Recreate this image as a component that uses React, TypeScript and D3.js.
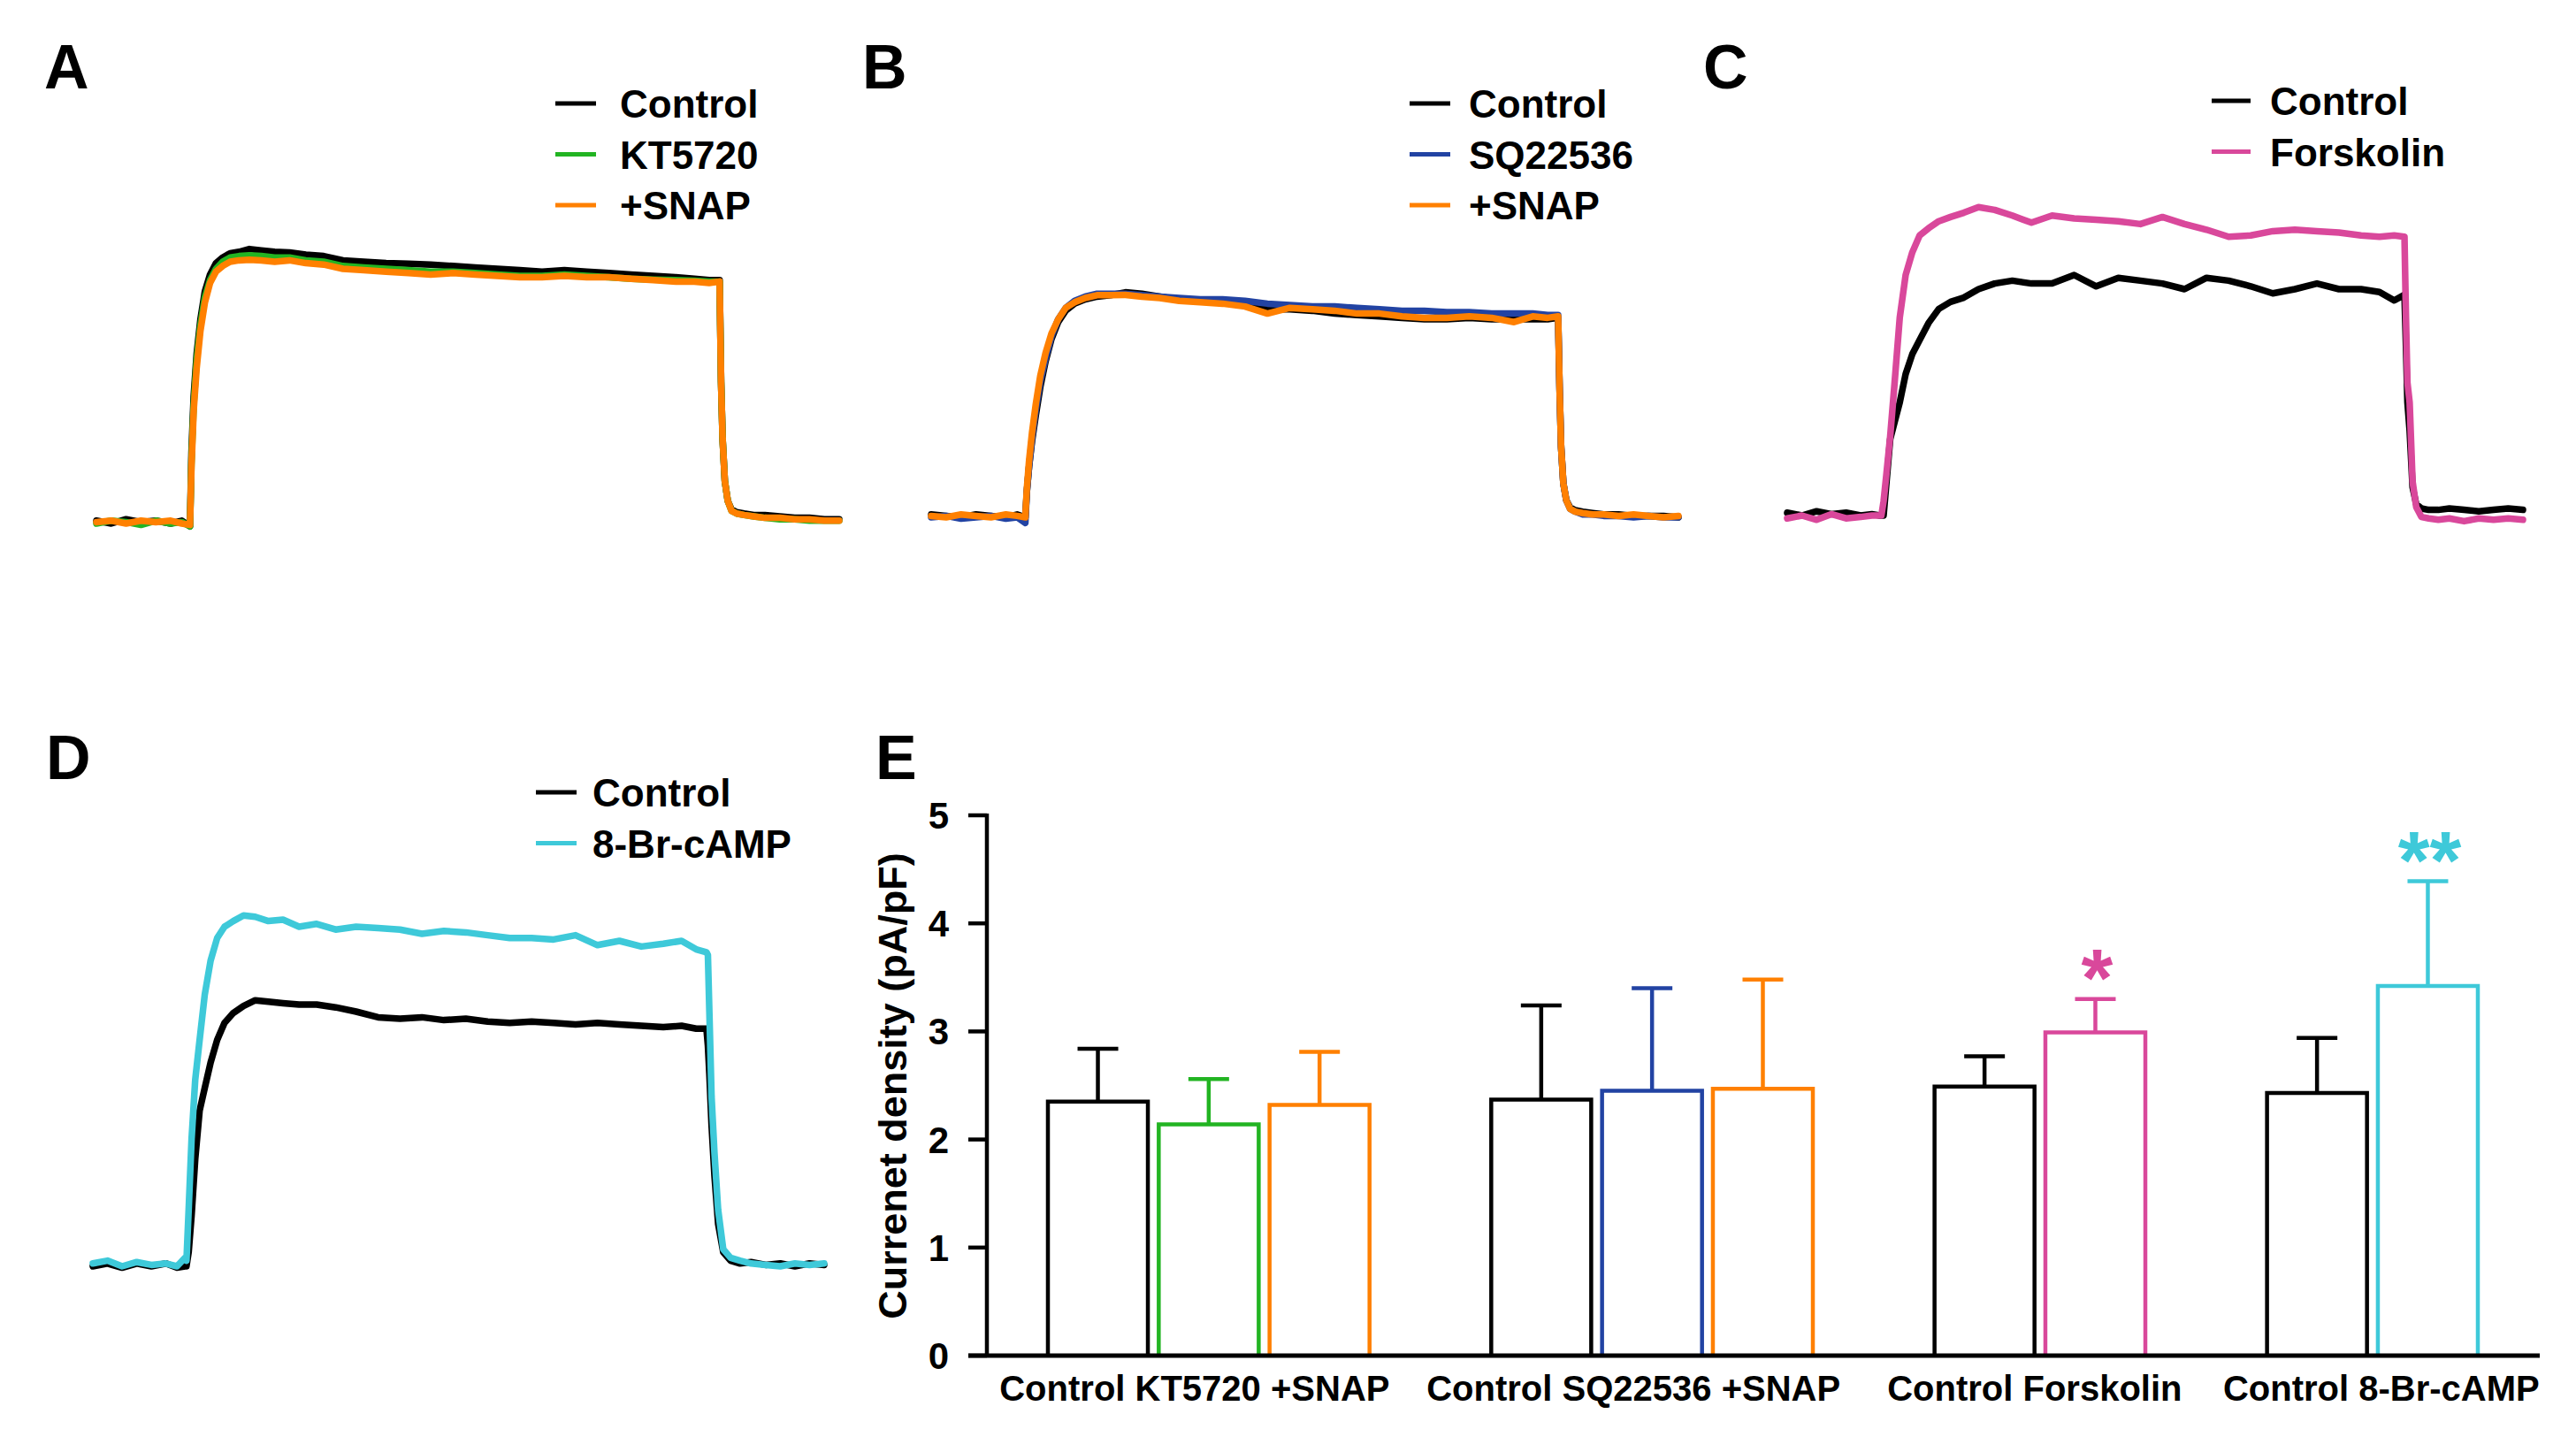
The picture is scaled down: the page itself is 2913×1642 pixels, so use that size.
import * as d3 from "d3";

// time base (ms) shared by all current traces
const traceTime = [
  0, 20, 40, 60, 80, 100, 115, 126,
  128, 131, 135, 140, 146, 153, 161, 170,
  180, 192, 206, 222, 240, 260, 282, 306,
  332, 360, 390, 420, 450, 480, 510, 540,
  570, 600, 630, 660, 690, 720, 750, 780,
  805, 825, 839, 841, 843, 846, 850, 855,
  862, 872, 885, 900, 920, 940, 960, 980,
  1000,
];

// panel A
const aControl = [
  0.01, 0.0, 0.015, 0.005, 0.01, 0.0, 0.01, -0.01,
  0.25, 0.45, 0.6, 0.72, 0.82, 0.88, 0.92, 0.94,
  0.955, 0.96, 0.97, 0.965, 0.96, 0.958, 0.95, 0.945,
  0.93, 0.925, 0.92, 0.918, 0.915, 0.91, 0.905, 0.9,
  0.895, 0.89, 0.895, 0.89, 0.885, 0.88, 0.875, 0.87,
  0.865, 0.86, 0.86, 0.5, 0.3, 0.15, 0.08, 0.05,
  0.04, 0.035, 0.03, 0.03, 0.025, 0.02, 0.02, 0.015,
  0.015,
];
const aKT5720 = [
  0.0, 0.01, 0.005, -0.005, 0.01, 0.0, 0.005, -0.01,
  0.22, 0.42, 0.58, 0.7, 0.8, 0.86, 0.9, 0.925,
  0.94, 0.945, 0.948, 0.945, 0.94, 0.94, 0.93, 0.925,
  0.91, 0.905, 0.9, 0.895, 0.89, 0.89, 0.885, 0.88,
  0.875, 0.875, 0.88, 0.875, 0.87, 0.865, 0.862, 0.86,
  0.858, 0.855, 0.855, 0.5, 0.3, 0.15, 0.08, 0.045,
  0.035, 0.03, 0.025, 0.02, 0.015, 0.015, 0.01, 0.01,
  0.01,
];
const aSnap = [
  0.005, 0.01, 0.0, 0.01, 0.005, 0.01, 0.0, -0.005,
  0.2, 0.4, 0.55, 0.68, 0.78, 0.85, 0.89, 0.91,
  0.925, 0.93, 0.932, 0.93, 0.925, 0.93, 0.92, 0.915,
  0.9, 0.895, 0.89, 0.885, 0.88, 0.885, 0.88, 0.875,
  0.87, 0.87, 0.875, 0.87, 0.87, 0.865, 0.86, 0.855,
  0.855, 0.85, 0.855, 0.5, 0.3, 0.15, 0.08, 0.045,
  0.035, 0.03, 0.025, 0.02, 0.02, 0.015, 0.015, 0.01,
  0.01,
];

// panel B
const bControl = [
  0.01, 0.005, 0.0, 0.01, 0.005, 0.0, 0.01, 0.0,
  0.09, 0.18, 0.27, 0.36, 0.46, 0.55, 0.63, 0.69,
  0.73, 0.755, 0.77, 0.78, 0.785, 0.795, 0.79, 0.78,
  0.77, 0.765, 0.76, 0.75, 0.735, 0.735, 0.73, 0.72,
  0.715, 0.71, 0.705, 0.7, 0.7, 0.705, 0.7, 0.7,
  0.7, 0.7, 0.705, 0.45, 0.25, 0.12, 0.06, 0.035,
  0.025, 0.02, 0.015, 0.01, 0.01, 0.005, 0.005, 0.005,
  0.0,
];
const bSQ22536 = [
  0.0, 0.005, -0.005, 0.0, 0.005, -0.005, 0.0, -0.02,
  0.09, 0.18, 0.28, 0.38, 0.48, 0.56, 0.64, 0.7,
  0.74, 0.765, 0.78, 0.79, 0.79, 0.79, 0.785, 0.78,
  0.775, 0.77, 0.77, 0.765, 0.755, 0.75, 0.745, 0.745,
  0.74, 0.735, 0.73, 0.73, 0.725, 0.725, 0.72, 0.72,
  0.72, 0.715, 0.715, 0.45, 0.25, 0.12, 0.06, 0.03,
  0.02, 0.01, 0.01, 0.005, 0.005, 0.0, 0.005, 0.0,
  0.0,
];
const bSnap = [
  0.005, 0.0, 0.01, 0.005, 0.0, 0.01, 0.005, 0.0,
  0.1, 0.2, 0.3, 0.4, 0.5, 0.58, 0.65, 0.7,
  0.74, 0.76, 0.775, 0.785, 0.785, 0.786, 0.78, 0.775,
  0.765, 0.76, 0.755, 0.745, 0.72, 0.74, 0.735, 0.73,
  0.72, 0.72, 0.71, 0.705, 0.705, 0.71, 0.705, 0.69,
  0.71, 0.705, 0.71, 0.45, 0.25, 0.12, 0.06, 0.03,
  0.02, 0.015, 0.01, 0.01, 0.005, 0.01, 0.005, 0.0,
  0.005,
];

// panel C
const cControl = [
  0.01, 0.0, 0.015, 0.005, 0.01, 0.0, 0.005, 0.0,
  0.0, 0.0, 0.12, 0.27, 0.33, 0.4, 0.5, 0.57,
  0.62, 0.68, 0.73, 0.755, 0.77, 0.8, 0.82, 0.83,
  0.82, 0.82, 0.85, 0.81, 0.84, 0.83, 0.82, 0.8,
  0.84, 0.83, 0.81, 0.785, 0.8, 0.82, 0.8, 0.8,
  0.79, 0.76, 0.78, 0.6, 0.4, 0.3, 0.1, 0.04,
  0.025, 0.02, 0.02, 0.025, 0.02, 0.015, 0.02, 0.025,
  0.02,
];
const cForskolin = [
  -0.01, 0.0, -0.015, 0.005, -0.01, -0.005, 0.0, 0.0,
  0.0, 0.05, 0.15, 0.28, 0.47, 0.7, 0.85, 0.93,
  0.99, 1.015, 1.04, 1.055, 1.07, 1.09, 1.08, 1.06,
  1.035, 1.06, 1.05, 1.045, 1.04, 1.03, 1.055, 1.03,
  1.01, 0.985, 0.99, 1.005, 1.01, 1.005, 1.0, 0.99,
  0.985, 0.99, 0.985, 0.7, 0.47, 0.4, 0.12, 0.03,
  -0.005, -0.01, -0.015, -0.01, -0.02, -0.01, -0.015, -0.01,
  -0.015,
];

// panel D
const dControl = [
  0.0, 0.01, -0.005, 0.01, 0.0, 0.01, -0.005, 0.0,
  0.0, 0.05, 0.18, 0.38, 0.55, 0.63, 0.72, 0.8,
  0.86, 0.895, 0.92, 0.94, 0.935, 0.93, 0.925, 0.925,
  0.915, 0.9, 0.88, 0.875, 0.88, 0.87, 0.875, 0.865,
  0.86, 0.865, 0.86, 0.855, 0.86, 0.855, 0.85, 0.845,
  0.85, 0.84, 0.84, 0.78, 0.68, 0.5, 0.32, 0.15,
  0.05, 0.02, 0.01, 0.015, 0.005, 0.01, 0.0, 0.01,
  0.005,
];
const dBrcAMP = [
  0.01, 0.02, 0.0, 0.015, 0.005, 0.01, 0.0, 0.03,
  0.02, 0.2, 0.45, 0.66, 0.8, 0.96, 1.08, 1.16,
  1.2, 1.22, 1.24, 1.235, 1.22, 1.225, 1.2, 1.21,
  1.19, 1.2, 1.195, 1.19, 1.175, 1.185, 1.18, 1.17,
  1.16, 1.16, 1.155, 1.17, 1.135, 1.15, 1.13, 1.14,
  1.15, 1.12, 1.11, 1.1, 0.9, 0.6, 0.4, 0.2,
  0.06, 0.03, 0.02, 0.01, 0.005, 0.0, 0.01, 0.005,
  0.01,
];

// panel E
const groupLabels = ["Control KT5720 +SNAP", "Control SQ22536 +SNAP", "Control Forskolin", "Control 8-Br-cAMP"];
const barNames = ["Control", "KT5720", "+SNAP", "Control", "SQ22536", "+SNAP", "Control", "Forskolin", "Control", "8-Br-cAMP"];
const barGroup = [0, 0, 0, 1, 1, 1, 2, 2, 3, 3];
const barMeans = [2.35, 2.14, 2.32, 2.37, 2.45, 2.47, 2.49, 2.99, 2.43, 3.42];
const barSem = [0.49, 0.42, 0.49, 0.87, 0.95, 1.01, 0.28, 0.31, 0.51, 0.97];
const barStars = ["", "", "", "", "", "", "", "*", "", "**"];
const yTicks = [0, 1, 2, 3, 4, 5];

const BLACK = "#000000";
const GREEN = "#22b422";
const ORANGE = "#ff8000";
const BLUE = "#2243a3";
const PINK = "#d9489b";
const CYAN = "#3ec9d9";

const barColors = [BLACK, GREEN, ORANGE, BLACK, BLUE, ORANGE, BLACK, PINK, BLACK, CYAN];

const FONT = "'Liberation Sans', Arial, Helvetica, sans-serif";

type Series = { name: string; color: string; values: number[] };
type Panel = {
  letter: string;
  letterX: number;
  letterY: number;
  xRange: [number, number];
  base: number;
  series: Series[];
  legend: { x0: number; x1: number; tx: number; y0: number };
};

const panels: Panel[] = [
  {
    letter: "A", letterX: 50, letterY: 100, xRange: [109, 949], base: 592,
    series: [
      { name: "Control", color: BLACK, values: aControl },
      { name: "KT5720", color: GREEN, values: aKT5720 },
      { name: "+SNAP", color: ORANGE, values: aSnap },
    ],
    legend: { x0: 628, x1: 674, tx: 701, y0: 117 },
  },
  {
    letter: "B", letterX: 975, letterY: 100, xRange: [1053, 1898], base: 585,
    series: [
      { name: "Control", color: BLACK, values: bControl },
      { name: "SQ22536", color: BLUE, values: bSQ22536 },
      { name: "+SNAP", color: ORANGE, values: bSnap },
    ],
    legend: { x0: 1594, x1: 1640, tx: 1661, y0: 117 },
  },
  {
    letter: "C", letterX: 1926, letterY: 100, xRange: [2021, 2853], base: 583,
    series: [
      { name: "Control", color: BLACK, values: cControl },
      { name: "Forskolin", color: PINK, values: cForskolin },
    ],
    legend: { x0: 2501, x1: 2545, tx: 2567, y0: 114 },
  },
  {
    letter: "D", letterX: 52, letterY: 881, xRange: [105, 932], base: 1432,
    series: [
      { name: "Control", color: BLACK, values: dControl },
      { name: "8-Br-cAMP", color: CYAN, values: dBrcAMP },
    ],
    legend: { x0: 606, x1: 652, tx: 670, y0: 896 },
  },
];

// small nudges so each group label sits like in the figure
const labelShift = [-16, -21, -6, 10];

function TracePanel({ p }: { p: Panel }) {
  const x = d3.scaleLinear([0, 1000], p.xRange);
  const y = d3.scaleLinear([0, 1], [p.base, p.base - 320]);
  const line = d3
    .line<number>()
    .x((_, i) => x(traceTime[i]))
    .y((d) => y(d));
  return (
    <g>
      <text x={p.letterX} y={p.letterY} fontSize={70} fontWeight="bold" fontFamily={FONT}>
        {p.letter}
      </text>
      {p.series.map((s) => (
        <path
          key={s.name}
          d={line(s.values)!}
          fill="none"
          stroke={s.color}
          strokeWidth={7.5}
          strokeLinejoin="round"
          strokeLinecap="round"
        />
      ))}
      {p.series.map((s, i) => (
        <g key={"lg" + s.name}>
          <line
            x1={p.legend.x0}
            x2={p.legend.x1}
            y1={p.legend.y0 + i * 57.5}
            y2={p.legend.y0 + i * 57.5}
            stroke={s.color}
            strokeWidth={5}
          />
          <text
            x={p.legend.tx}
            y={p.legend.y0 + i * 57.5 + 16}
            fontSize={44}
            fontWeight="bold"
            fontFamily={FONT}
          >
            {s.name}
          </text>
        </g>
      ))}
    </g>
  );
}

function BarPanel() {
  // one empty slot between groups
  const slots: string[] = [];
  groupLabels.forEach((_, g) => {
    barNames.forEach((_, i) => {
      if (barGroup[i] === g) slots.push("bar" + i);
    });
    if (g < groupLabels.length - 1) slots.push("gap" + g);
  });
  const x = d3.scaleBand<string>().domain(slots).range([1185, 2802]).paddingInner(0.098).paddingOuter(0);
  const y = d3.scaleLinear([0, 5], [1533, 922]);
  const bw = x.bandwidth();
  const axisX = 1116;

  return (
    <g fontFamily={FONT} fontWeight="bold">
      <text x={990} y={881} fontSize={70}>E</text>
      {/* y axis */}
      <line x1={axisX} x2={axisX} y1={y(0)} y2={y(5) - 2} stroke="#000" strokeWidth={4.5} />
      {yTicks.map((t) => (
        <g key={t}>
          <line x1={axisX - 21} x2={axisX} y1={y(t)} y2={y(t)} stroke="#000" strokeWidth={4.5} />
          <text x={1073} y={y(t) + 15} fontSize={42} textAnchor="end">
            {t}
          </text>
        </g>
      ))}
      <text
        transform={`translate(1025,1228) rotate(-90)`}
        fontSize={45}
        textAnchor="middle"
      >
        Currenet density (pA/pF)
      </text>
      {/* bars */}
      {barMeans.map((m, i) => {
        const x0 = x("bar" + i)!;
        const cx = x0 + bw / 2;
        const top = y(m + barSem[i]);
        return (
          <g key={i} stroke={barColors[i]} strokeWidth={4.5} fill="none">
            <path d={`M${x0},${y(0)}V${y(m)}H${x0 + bw}V${y(0)}`} strokeLinejoin="miter" />
            <line x1={cx} x2={cx} y1={y(m)} y2={top} />
            <line x1={cx - 23} x2={cx + 23} y1={top} y2={top} />
            {barStars[i] && (
              <text
                x={cx + 2}
                y={top + 8}
                fontSize={92}
                textAnchor="middle"
                fill={barColors[i]}
                stroke="none"
              >
                {barStars[i]}
              </text>
            )}
          </g>
        );
      })}
      {/* x axis */}
      <line x1={axisX - 21} x2={2872} y1={y(0)} y2={y(0)} stroke="#000" strokeWidth={5} />
      {groupLabels.map((lab, g) => {
        const idx = barGroup.map((v, i) => (v === g ? i : -1)).filter((i) => i >= 0);
        const left = x("bar" + idx[0])!;
        const right = x("bar" + idx[idx.length - 1])! + bw;
        return (
          <text key={lab} x={(left + right) / 2 + labelShift[g]} y={1584} fontSize={40} textAnchor="middle">
            {lab}
          </text>
        );
      })}
    </g>
  );
}

export default function App() {
  return (
    <div style={{ position: "absolute", left: 0, top: 0 }}>
      <svg width={2913} height={1642} style={{ display: "block", background: "#fff" }}>
        <rect width={2913} height={1642} fill="#fff" />
        {panels.map((p) => (
          <TracePanel key={p.letter} p={p} />
        ))}
        <BarPanel />
      </svg>
    </div>
  );
}
